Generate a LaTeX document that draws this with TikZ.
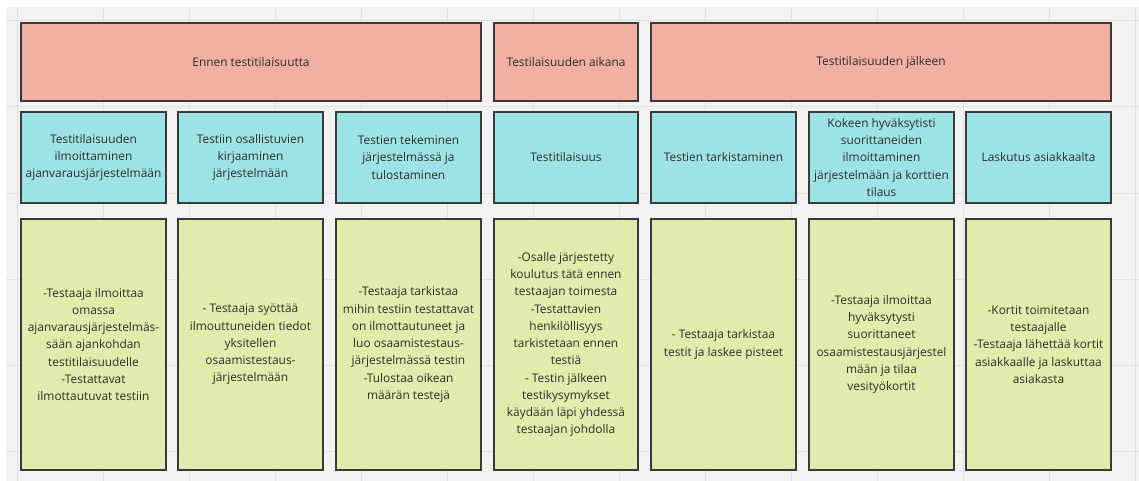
\documentclass[tikz,border=0pt]{standalone}
\usepackage{fontspec}
\setmainfont{Open Sans}
\definecolor{bgc}{HTML}{F2F2F2}
\definecolor{gridc}{HTML}{E2E2E2}
\definecolor{redc}{HTML}{F2AA9E}
\definecolor{cyanc}{HTML}{96E2E6}
\definecolor{greenc}{HTML}{E0EBA5}
\definecolor{linec}{HTML}{3A3A3A}
\definecolor{textc}{HTML}{2E2E2E}
\begin{document}
\begin{tikzpicture}[x=1pt,y=-1pt,
  card/.style={draw=linec, line width=1.8pt, fill opacity=0.92, text opacity=1,
    align=center, text=textc, inner sep=0pt,
    font=\fontsize{11.9}{17.25}\selectfont},
  hdr/.style={card, fill=redc, minimum height=78pt},
  act/.style={card, fill=cyanc, minimum width=145pt, minimum height=91pt},
  note/.style={card, fill=greenc, minimum width=145pt, minimum height=251pt}]
\useasboundingbox (0,0) rectangle (1139,481);
\fill[white] (0,0) rectangle (1139,481);
\fill[bgc] (6,7) rectangle (1139,481);
\foreach \gx in {17,103,...,1139} \draw[gridc, line width=1pt] (\gx,7) -- (\gx,481);
\foreach \gy in {21,107,...,481} \draw[gridc, line width=1pt] (6,\gy) -- (1139,\gy);

\node[hdr, minimum width=460pt] (r1) at (251,62) {Ennen testitilaisuutta};
\node[hdr, minimum width=144pt] (r2) at (566,62) {Testilaisuuden aikana};
\node[hdr, minimum width=460pt] (r3) at (881,62) {Testitilaisuuden jälkeen};

\node[act] (c1) at (93.5,157.5) {Testitilaisuuden\\ilmoittaminen\\ajanvarausjärjestelmään};
\node[act] (c2) at (250.5,157.5) {Testiin osallistuvien\\kirjaaminen\\järjestelmään};
\node[act] (c3) at (408.5,157.5) {Testien tekeminen\\järjestelmässä ja\\tulostaminen};
\node[act, minimum width=144pt] (c4) at (566,157.5) {Testitilaisuus};
\node[act] (c5) at (723.5,157.5) {Testien tarkistaminen};
\node[act] (c6) at (881.5,157.5) {Kokeen hyväksytisti\\suorittaneiden\\ilmoittaminen\\järjestelmään ja korttien\\tilaus};
\node[act] (c7) at (1038.5,157.5) {Laskutus asiakkaalta};

\node[note] (g1) at (93.5,344.5) {-Testaaja ilmoittaa\\omassa\\ajanvarausjärjestelmäs-\\sään ajankohdan\\testitilaisuudelle\\-Testattavat\\ilmottautuvat testiin};
\node[note] (g2) at (250.5,344.5) {- Testaaja syöttää\\ilmouttuneiden tiedot\\yksitellen\\osaamistestaus-\\järjestelmään};
\node[note] (g3) at (408.5,344.5) {-Testaaja tarkistaa\\mihin testiin testattavat\\on ilmottautuneet ja\\luo osaamistestaus-\\järjestelmässä testin\\-Tulostaa oikean\\määrän testejä};
\node[note, minimum width=144pt] (g4) at (566,344.5) {-Osalle järjestetty\\koulutus tätä ennen\\testaajan toimesta\\-Testattavien\\henkilöllisyys\\tarkistetaan ennen\\testiä\\- Testin jälkeen\\testikysymykset\\käydään läpi yhdessä\\testaajan johdolla};
\node[note] (g5) at (723.5,344.5) {- Testaaja tarkistaa\\testit ja laskee pisteet};
\node[note] (g6) at (881.5,344.5) {-Testaaja ilmoittaa\\hyväksytysti\\suorittaneet\\osaamistestausjärjestel\\mään ja tilaa\\vesityökortit};
\node[note] (g7) at (1038.5,344.5) {-Kortit toimitetaan\\testaajalle\\-Testaaja lähettää kortit\\asiakkaalle ja laskuttaa\\asiakasta};
\end{tikzpicture}
\end{document}
